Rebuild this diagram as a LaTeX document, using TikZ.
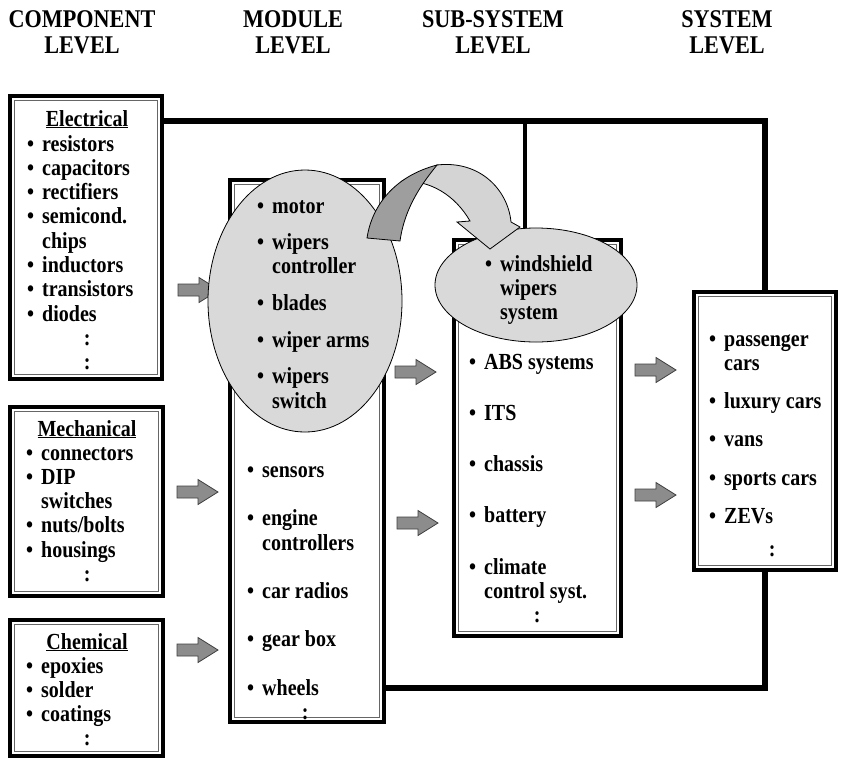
\documentclass[tikz,border=0pt]{standalone}
\usepackage{fontspec}
\setmainfont{Liberation Serif}[FakeStretch=0.87]
\usetikzlibrary{shapes.geometric}

\definecolor{ellgray}{gray}{0.85}
\definecolor{arrgray}{gray}{0.55}
\definecolor{ribbonlight}{gray}{0.83}
\definecolor{ribbondark}{gray}{0.62}

% list helpers: bullet item, continuation line, centred colon, top-aligned line stack
\newcommand\bul[1]{\makebox[15pt][l]{\textbullet}#1}
\newcommand\cnt[1]{\hspace*{15pt}#1}
\newcommand\colonat[1]{\makebox[#1][c]{:}}
\newcommand\stackleft[1]{\parbox[t]{220pt}{\raggedright #1}}
\newcommand\stackmid[1]{\parbox[t]{220pt}{\centering #1}}

\begin{document}
\begin{tikzpicture}[x=1pt,y=-1pt,
  lvlbox/.style={draw=black, line width=3.5pt, outer sep=0pt, inner sep=0pt, rectangle},
  innerline/.style={draw=black!60, line width=1pt},
  link/.style={draw=black, line width=5.5pt, line join=miter},
  blob/.style={ellipse, draw=black, line width=0.8pt, fill=ellgray, inner sep=0pt, outer sep=0pt},
  lst/.style={anchor=base west, inner sep=0pt, font=\bfseries\fontsize{23}{24.3}\selectfont},
  hd/.style={anchor=base, inner sep=0pt, font=\bfseries\fontsize{23}{24.3}\selectfont},
  lvl/.style={anchor=base, inner sep=0pt, font=\bfseries\fontsize{25.5}{26}\selectfont},
  arrowbody/.style={fill=arrgray, draw=black!75, line width=0.8pt, line join=miter},
  pics/blockarrow/.style={code={
    \draw[arrowbody] (0,-6) -- (21,-6) -- (21,-12.5) -- (41,0) -- (21,12.5) -- (21,6) -- (0,6) -- cycle;}},
]
\fill[white] (0,0) rectangle (842,761);
\useasboundingbox (0,0) rectangle (842,761);

% column headings
\node[lvl] (hcomp) at (82,27) {\stackmid{COMPONENT\\LEVEL}};
\node[lvl] (hmod)  at (293,27) {\stackmid{MODULE\\LEVEL}};
\node[lvl] (hsub)  at (493,27) {\stackmid{SUB-SYSTEM\\LEVEL}};
\node[lvl] (hsys)  at (727,27) {\stackmid{SYSTEM\\LEVEL}};

% level boxes
\node[lvlbox, minimum width=152pt, minimum height=283pt] (elec)   at (86,237.5) {};
\node[lvlbox, minimum width=153pt, minimum height=189pt] (mech)   at (86.5,501.5) {};
\node[lvlbox, minimum width=153pt, minimum height=136pt] (chem)   at (86.5,688) {};
\node[lvlbox, minimum width=154pt, minimum height=542pt] (modbox) at (307,451) {};
\node[lvlbox, minimum width=167pt, minimum height=396pt] (subbox) at (537.5,438) {};
\node[lvlbox, minimum width=142pt, minimum height=278pt] (sysbox) at (765,431) {};
\foreach \b in {elec,mech,chem,modbox,subbox,sysbox}
  \draw[innerline] ([shift={(4.5pt,-4.5pt)}]\b.north west) rectangle ([shift={(-4.5pt,4.5pt)}]\b.south east);

% feedback links
\coordinate (jtop) at (525,121);
\coordinate (ctop) at (765,121);
\coordinate (cbot) at (765,688);
\draw[link] (elec.east |- ctop) -- (ctop) -- (sysbox.north);
\draw[link, line width=4pt] (jtop) -- (subbox.north -| jtop);
\draw[link] (sysbox.south) -- (cbot) -- (modbox.east |- cbot);

% flow arrows between levels
\pic at (178,290) {blockarrow};
\pic at (177,492) {blockarrow};
\pic at (177,650) {blockarrow};
\pic at (395,372) {blockarrow};
\pic at (397,523) {blockarrow};
\pic at (635,370) {blockarrow};
\pic at (635,495) {blockarrow};

% highlighted groups
\node[blob, minimum width=194pt, minimum height=262pt] (modell) at (305,301) {};
\node[blob, minimum width=202pt, minimum height=114pt] (subell) at (536,285) {};

% curved ribbon arrow from module group to sub-system group
\filldraw[fill=ribbonlight, draw=black, line width=0.8pt, line join=miter]
  (437,165) .. controls (480,160) and (508,190) .. (511,222) -- (520,227) -- (490,249)
  -- (457,222) -- (470,221) .. controls (455,195) and (430,180) .. (402,181) -- cycle;
\filldraw[fill=ribbondark, draw=black, line width=0.8pt, line join=miter]
  (367,238) .. controls (372,205) and (395,176) .. (437,165)
  .. controls (425,180) and (405,205) .. (400,241) -- cycle;

% component level
\node[hd] (helec) at (87,126) {\underline{Electrical}};
\node[lst] (lelec) at (27,151) {\stackleft{\bul{resistors}\\\bul{capacitors}\\\bul{rectifiers}\\\bul{semicond.}\\\cnt{chips}\\\bul{inductors}\\\bul{transistors}\\\bul{diodes}\\\colonat{120pt}\\\colonat{120pt}}};
\node[hd] (hmech) at (87,436) {\underline{Mechanical}};
\node[lst] (lmech) at (26,460) {\stackleft{\bul{connectors}\\\bul{DIP}\\\cnt{switches}\\\bul{nuts/bolts}\\\bul{housings}\\\colonat{122pt}}};
\node[hd] (hchem) at (87,649) {\underline{Chemical}};
\node[lst] (lchem) at (26,673) {\stackleft{\bul{epoxies}\\\bul{solder}\\\bul{coatings}\\\colonat{122pt}}};

% module level
\node[lst] (lmodell) at (257,213) {\stackleft{\bul{motor}\\[12.3pt]\bul{wipers}\\\cnt{controller}\\[12.3pt]\bul{blades}\\[12.3pt]\bul{wiper arms}\\[12.3pt]\bul{wipers}\\\cnt{switch}}};
\node[lst] (lmod) at (247,477) {\stackleft{\bul{sensors}\\[24.5pt]\bul{engine}\\\cnt{controllers}\\[24.5pt]\bul{car radios}\\[23pt]\bul{gear box}\\[24.5pt]\bul{wheels}\\\colonat{116pt}}};

% sub-system level
\node[lst] (lsubell) at (485,271) {\stackleft{\bul{windshield}\\\cnt{wipers}\\\cnt{system}}};
\node[lst] (lsub) at (469,369) {\stackleft{\bul{ABS systems}\\[27pt]\bul{ITS}\\[27pt]\bul{chassis}\\[27pt]\bul{battery}\\[27pt]\bul{climate}\\\cnt{control syst.}\\\colonat{136pt}}};

% system level
\node[lst] (lsys) at (709,346) {\stackleft{\bul{passenger}\\\cnt{cars}\\[14pt]\bul{luxury cars}\\[14pt]\bul{vans}\\[14pt]\bul{sports cars}\\[14pt]\bul{ZEVs}\\[9pt]\colonat{126pt}}};
\end{tikzpicture}
\end{document}
